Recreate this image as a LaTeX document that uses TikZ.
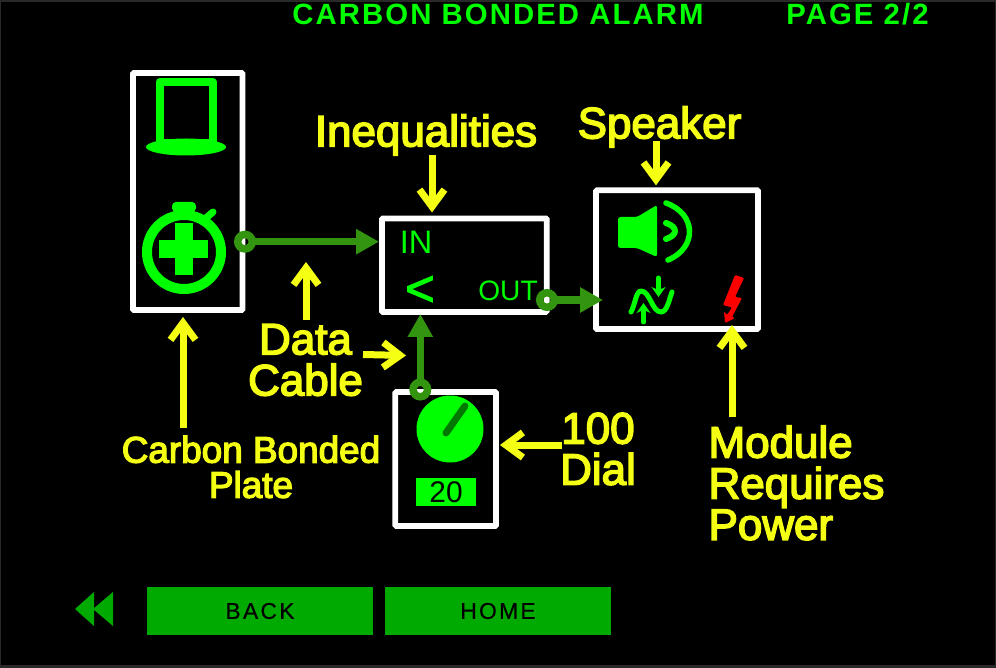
\documentclass[tikz,border=0pt]{standalone}
\usepackage{fontspec}
\usepackage{tikz}
\usetikzlibrary{arrows.meta, positioning, calc}
\setmainfont{Liberation Sans}
\newfontfamily\calloutfont[FakeBold=3.5]{Liberation Sans}
\newfontfamily\iconfont[FakeBold=2]{Liberation Sans}
\newfontfamily\titlefont[LetterSpace=7]{Liberation Sans Bold}
\newfontfamily\btnfont[LetterSpace=10,FakeBold=0.5]{Liberation Sans}

\begin{document}
\begin{tikzpicture}[x=0.02cm, y=-0.02cm, >=Stealth,
    panel/.style={draw=white, line width=0.115cm, rounded corners=0.02cm, inner sep=0pt, outer sep=0pt},
    port/.style={circle, draw=wiregreen, line width=0.15cm, minimum size=0.29cm, inner sep=0pt, outer sep=0pt},
    wire/.style={wiregreen, line width=0.15cm, -{Triangle[length=0.46cm, width=0.48cm]}},
    callout/.style={calloutyellow, line width=0.14cm, -{Straight Barb[length=0.34cm, width=0.5cm]}},
    calloutlabel/.style={text=calloutyellow, font=\calloutfont\fontsize{25}{23.4}\selectfont, align=center, inner sep=0pt},
    navbtn/.style={fill=btngreen, minimum width=4.52cm, minimum height=0.96cm, inner sep=0pt, font=\btnfont\fontsize{13}{14}\selectfont, text=black},
    iconline/.style={draw=icongreen, line cap=round, line join=round}]
    % Define local colors
    \definecolor{icongreen}{RGB}{0, 255, 0} \definecolor{wiregreen}{RGB}{51, 148, 16}
    \definecolor{calloutyellow}{RGB}{245, 255, 20} \definecolor{btngreen}{RGB}{0, 170, 0}

    % Background
    \fill[black!84] (0,0) rectangle (996,668);
    \fill[black] (1,2.5) rectangle (995,664.5);
    \useasboundingbox (0,0) rectangle (996,668);

    % Title line
    \node[text=icongreen, font=\titlefont\fontsize{16.7}{18}\selectfont, inner sep=0pt] (title) at (498,14) {CARBON BONDED ALARM};
    \node[text=icongreen, font=\titlefont\fontsize{16.7}{18}\selectfont, inner sep=0pt] (page) at (857.5,14) {PAGE 2/2};

    % Module frames
    \node[panel, minimum width=2.19cm, minimum height=4.74cm] (plate) at (187.75,191.5) {};
    \node[panel, minimum width=3.294cm, minimum height=1.87cm] (ineq) at (464.35,265.25) {};
    \node[panel, minimum width=3.24cm, minimum height=2.774cm] (speaker) at (677,259.65) {};
    \node[panel, minimum width=2.014cm, minimum height=2.68cm] (dial) at (445.65,459) {};

    % Plate icons
    \draw[icongreen, line width=0.16cm, line join=round] (159.5,82) rectangle (212.5,143);
    \fill[icongreen] (186,147) ellipse [x radius=40, y radius=8.5];
    \draw[icongreen, line width=0.2cm] (184,252) circle (37);
    \fill[icongreen, rounded corners=0.08cm] (172,202) rectangle (196,212);
    \fill[icongreen] (179,210) rectangle (189,216);
    \draw[iconline, line width=0.14cm] (206,218) -- (213,212);
    \fill[icongreen] (175,223) rectangle (193,275);
    \fill[icongreen] (159,240) rectangle (208,258);

    % Module texts
    \node[text=icongreen, font=\fontsize{18.5}{20}\selectfont, inner sep=0pt] (intxt) at (416,242) {IN};
    \node[text=icongreen, font=\iconfont\fontsize{29}{30}\selectfont, inner sep=0pt] (ltsign) at (420,291) {<};
    \node[text=icongreen, font=\fontsize{16}{18}\selectfont, inner sep=0pt] (outtxt) at (508,291) {OUT};

    % Speaker icons
    \fill[icongreen, rounded corners=0.05cm] (618,217) -- (637,217) -- (657,205) -- (657,257) -- (637,248) -- (618,248) -- cycle;
    \draw[iconline, line width=0.11cm] (666,203) .. controls (697,214) and (697,248) .. (668,260);
    \draw[iconline, line width=0.12cm] (666,223) .. controls (678,227) and (678,235) .. (666,239);
    \draw[iconline, line width=0.1cm] (631,312) .. controls (635,305) and (636,291) .. (641,291) .. controls (650,291) and (652,312) .. (661,312) .. controls (667,312) and (669,300) .. (672,292);
    \draw[iconline, line width=0.1cm, -{Stealth[length=0.2cm, width=0.28cm]}] (658.5,278) -- (658.5,297);
    \draw[iconline, line width=0.1cm, -{Stealth[length=0.2cm, width=0.28cm]}] (643.5,322) -- (643.5,303);
    \fill[red, rounded corners=0.02cm] (735,275) -- (744,278) -- (735,297) -- (742,298) -- (732,317) -- (735,318) -- (725,323) -- (724,311.5) -- (727,315) -- (732,307.5) -- (723,305) -- cycle;

    % Dial icons
    \fill[icongreen] (450,429) circle (33.5);
    \draw[line width=0.14cm, draw={rgb,255:red,0;green,120;blue,0}, line cap=round] (446,433) -- (465,406);
    \node[fill=icongreen, minimum width=1.2cm, minimum height=0.56cm, inner sep=0pt, text=black, font=\fontsize{17}{18}\selectfont] (dialval) at (446,492) {20};

    % Ports and data cables
    \node[port] (plateport) at (245,241.7) {};
    \node[port] (outport) at (547,300) {};
    \node[port] (dialport) at (420.3,389.5) {};
    \draw[wire, shorten >=0.06cm] (plateport.east) -- (ineq.west |- plateport);
    \draw[wire, shorten >=-0.14cm] (outport.east) -- (speaker.west |- outport);
    \draw[wire, shorten >=0.04cm] (dialport.north) -- (dialport |- ineq.south);

    % Yellow callouts
    \node[calloutlabel] (lblineq) at (426,135) {Inequalities};
    \node[calloutlabel] (lblspeaker) at (659.5,127) {Speaker};
    \node[calloutlabel] (lblcable) at (305.5,360) {Data\\Cable};
    \node[calloutlabel, font=\calloutfont\fontsize{21}{20}\selectfont] (lblplate) at (251,467) {Carbon Bonded\\Plate};
    \node[calloutlabel] (lbldial) at (598,449) {100\\Dial};
    \node[calloutlabel, align=left] (lblpower) at (796.5,483) {Module\\Requires\\Power};

    \coordinate (tailplate) at (183,428);
    \coordinate (tailcable) at (306,320);
    \coordinate (tipcable) at (306,262);
    \coordinate (tailwire) at (363,354.5);
    \coordinate (tipwire) at (406,355.5);
    \coordinate (tailineq) at (432,155);
    \coordinate (tailspeaker) at (656,141);
    \coordinate (tailpower) at (732,417);
    \coordinate (taildial) at (562,445);

    \draw[callout, shorten >=0.14cm] (tailplate) -- (tailplate |- plate.south);
    \draw[callout] (tailcable) -- (tipcable);
    \draw[callout] (tailwire) -- (tipwire);
    \draw[callout, shorten >=0.12cm] (tailineq) -- (tailineq |- ineq.north);
    \draw[callout, shorten >=0.1cm] (tailspeaker) -- (tailspeaker |- speaker.north);
    \draw[callout, shorten >=-0.08cm] (tailpower) -- (tailpower |- speaker.south);
    \draw[callout, shorten >=0.08cm] (taildial) -- (taildial -| dial.east);

    % Bottom navigation
    \fill[btngreen] (75,609) -- (94,592) -- (94,626) -- cycle;
    \fill[btngreen] (93,609) -- (113,592) -- (113,626) -- cycle;
    \node[navbtn] (back) at (260,611) {BACK};
    \node[navbtn] (home) at (498,611) {HOME};
\end{tikzpicture}
\end{document}
